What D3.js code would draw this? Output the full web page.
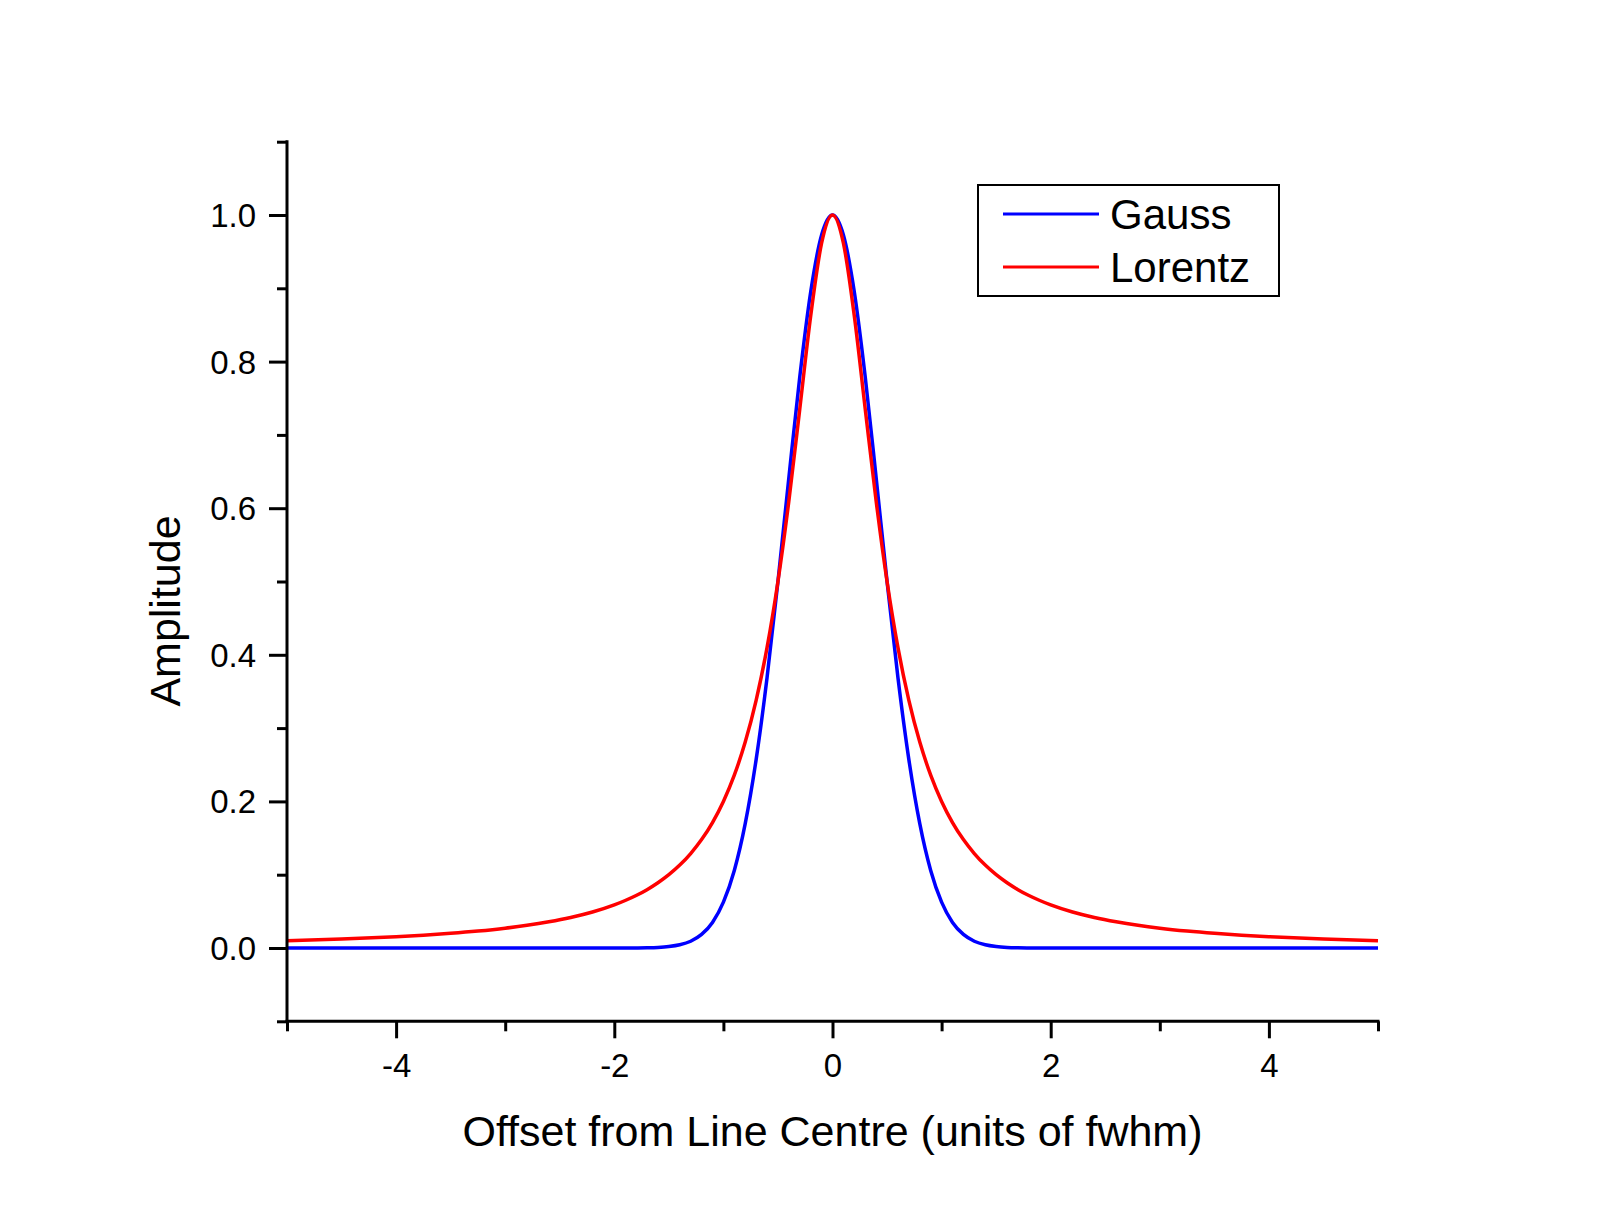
<!DOCTYPE html>
<html>
<head>
<meta charset="utf-8">
<script src="https://cdn.jsdelivr.net/npm/d3@7"></script>
<style>
  html, body { margin: 0; padding: 0; background: #ffffff; }
  svg { display: block; }
  text { font-family: "Liberation Sans", Arial, sans-serif; fill: #000; }
</style>
</head>
<body>
<script>
// ---- Data ----
const xValues = [
  -5, -4.5, -4, -3.75, -3.5, -3.25, -3, -2.8, -2.6, -2.4, -2.2, -2,
  -1.9, -1.8, -1.7, -1.6, -1.5, -1.4, -1.3, -1.2, -1.1, -1,
  -0.9, -0.8, -0.7, -0.6, -0.5, -0.4, -0.3, -0.2, -0.1, 0,
  0.1, 0.2, 0.3, 0.4, 0.5, 0.6, 0.7, 0.8, 0.9, 1,
  1.1, 1.2, 1.3, 1.4, 1.5, 1.6, 1.7, 1.8, 1.9, 2,
  2.2, 2.4, 2.6, 2.8, 3, 3.25, 3.5, 3.75, 4, 4.5, 5
];
const gaussValues = [
  0, 0, 0, 0, 0, 0, 0, 0, 0, 0, 0, 0,
  0, 0.0001, 0.0003, 0.0008, 0.0020, 0.0044, 0.0092, 0.0185, 0.0349, 0.0625,
  0.1058, 0.1696, 0.2570, 0.3686, 0.5, 0.6417, 0.7792, 0.8950, 0.9727, 1,
  0.9727, 0.8950, 0.7792, 0.6417, 0.5, 0.3686, 0.2570, 0.1696, 0.1058, 0.0625,
  0.0349, 0.0185, 0.0092, 0.0044, 0.0020, 0.0008, 0.0003, 0.0001, 0, 0,
  0, 0, 0, 0, 0, 0, 0, 0, 0, 0, 0
];
const lorentzValues = [
  0.0099, 0.0122, 0.0154, 0.0175, 0.0200, 0.0231, 0.0270, 0.0309, 0.0357, 0.0416, 0.0491, 0.0588,
  0.0648, 0.0716, 0.0796, 0.0890, 0.1, 0.1131, 0.1289, 0.1479, 0.1712, 0.2,
  0.2358, 0.2809, 0.3378, 0.4098, 0.5, 0.6098, 0.7353, 0.8621, 0.9615, 1,
  0.9615, 0.8621, 0.7353, 0.6098, 0.5, 0.4098, 0.3378, 0.2809, 0.2358, 0.2,
  0.1712, 0.1479, 0.1289, 0.1131, 0.1, 0.0890, 0.0796, 0.0716, 0.0648, 0.0588,
  0.0491, 0.0416, 0.0357, 0.0309, 0.0270, 0.0231, 0.0200, 0.0175, 0.0154, 0.0122, 0.0099
];
const seriesNames = ["Gauss", "Lorentz"];
const seriesColors = ["#0000ff", "#ff0000"];
const xMajorTicks = [-4, -2, 0, 2, 4];
const xTickLabels = ["-4", "-2", "0", "2", "4"];
const xMinorTicks = [-5, -3, -1, 1, 3, 5];
const yMajorTicks = [0, 0.2, 0.4, 0.6, 0.8, 1.0];
const yTickLabels = ["0.0", "0.2", "0.4", "0.6", "0.8", "1.0"];
const yMinorTicks = [-0.1, 0.1, 0.3, 0.5, 0.7, 0.9, 1.1];
const xTitle = "Offset from Line Centre (units of fwhm)";
const yTitle = "Amplitude";

// ---- Layout ----
const W = 1600, H = 1225;
const svg = d3.select("body").append("svg").attr("width", W).attr("height", H);

const x = d3.scaleLinear().domain([-5, 5]).range([287, 1378]);
const y = d3.scaleLinear().domain([0, 1]).range([948, 215]);
const yBottom = y(-0.1), yTop = y(1.1);

const axisColor = "#000";

// Curves
const series = [gaussValues, lorentzValues];
const line = d3.line()
  .x((d, i) => x(xValues[i]))
  .y(d => y(d))
  .curve(d3.curveMonotoneX);

series.forEach((vals, k) => {
  svg.append("path")
    .datum(vals)
    .attr("d", line)
    .attr("fill", "none")
    .attr("stroke", seriesColors[k])
    .attr("stroke-width", 3.5)
    .attr("stroke-linejoin", "round");
});

// Left axis
const yAxisMajor = d3.axisLeft(y).tickValues(yMajorTicks).tickSize(18).tickPadding(12)
  .tickFormat((d, i) => yTickLabels[i]);
const gy = svg.append("g").attr("transform", `translate(${x(-5)},0)`).call(yAxisMajor);
gy.select(".domain").remove();
gy.selectAll(".tick line").attr("stroke", axisColor).attr("stroke-width", 3);
gy.selectAll(".tick text")
  .attr("font-size", 33)
  .attr("font-family", "Liberation Sans, Arial, sans-serif")
  .attr("x", 256 - 287)
  .attr("dy", null)
  .attr("y", 0)
  .attr("dominant-baseline", "central")
  .attr("fill", "#000");
const gyMinor = svg.append("g").attr("transform", `translate(${x(-5)},0)`)
  .call(d3.axisLeft(y).tickValues(yMinorTicks).tickSize(10).tickFormat(""));
gyMinor.select(".domain").remove();
gyMinor.selectAll(".tick line").attr("stroke", axisColor).attr("stroke-width", 3);

// Bottom axis
const xAxisMajor = d3.axisBottom(x).tickValues(xMajorTicks).tickSize(17).tickPadding(12)
  .tickFormat((d, i) => xTickLabels[i]);
const gx = svg.append("g").attr("transform", `translate(0,${yBottom})`).call(xAxisMajor);
gx.select(".domain").remove();
gx.selectAll(".tick line").attr("stroke", axisColor).attr("stroke-width", 3);
gx.selectAll(".tick text")
  .attr("font-size", 33)
  .attr("font-family", "Liberation Sans, Arial, sans-serif")
  .attr("dy", null)
  .attr("y", 1077 - yBottom)
  .attr("fill", "#000");
const gxMinor = svg.append("g").attr("transform", `translate(0,${yBottom})`)
  .call(d3.axisBottom(x).tickValues(xMinorTicks).tickSize(10).tickFormat(""));
gxMinor.select(".domain").remove();
gxMinor.selectAll(".tick line").attr("stroke", axisColor).attr("stroke-width", 3);

// Axis lines
svg.append("line").attr("x1", x(-5)).attr("x2", x(-5)).attr("y1", yTop - 1.5).attr("y2", yBottom + 1.5)
  .attr("stroke", axisColor).attr("stroke-width", 3);
svg.append("line").attr("x1", x(-5) - 1.5).attr("x2", x(5) + 1.5).attr("y1", yBottom).attr("y2", yBottom)
  .attr("stroke", axisColor).attr("stroke-width", 3);

// Axis titles
svg.append("text")
  .attr("x", x(0)).attr("y", 1146)
  .attr("text-anchor", "middle")
  .attr("font-size", 43)
  .text(xTitle);
svg.append("text")
  .attr("transform", `translate(180,611) rotate(-90)`)
  .attr("text-anchor", "middle")
  .attr("font-size", 43)
  .text(yTitle);

// Legend
const legend = svg.append("g");
legend.append("rect")
  .attr("x", 978).attr("y", 185).attr("width", 301).attr("height", 111)
  .attr("fill", "#fff").attr("stroke", "#000").attr("stroke-width", 2);
const legendY = [214, 267];
seriesNames.forEach((name, k) => {
  legend.append("line")
    .attr("x1", 1003).attr("x2", 1099)
    .attr("y1", legendY[k]).attr("y2", legendY[k])
    .attr("stroke", seriesColors[k]).attr("stroke-width", 3);
  legend.append("text")
    .attr("x", 1110).attr("y", legendY[k] + 15)
    .attr("font-size", 42)
    .text(name);
});
</script>
</body>
</html>
